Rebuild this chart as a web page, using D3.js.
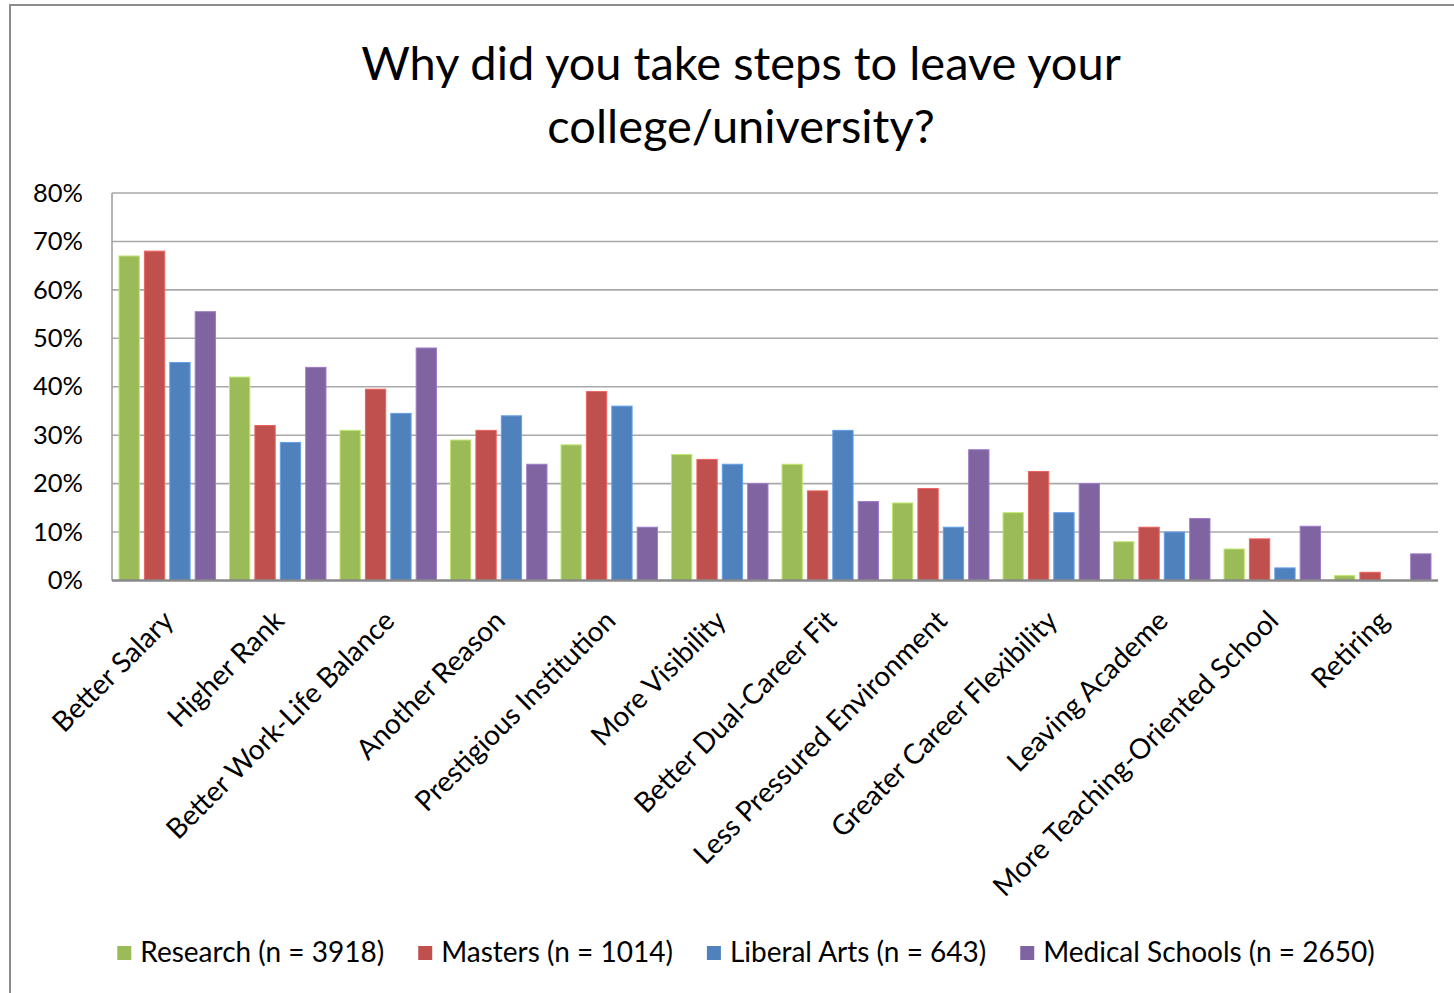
<!DOCTYPE html>
<html>
<head>
<meta charset="utf-8">
<script src="https://cdn.jsdelivr.net/npm/d3@7"></script>
<style>
  html, body { margin: 0; padding: 0; background: #fff; }
  svg { display: block; }
  text { font-family: Lato, "Open Sans", sans-serif; fill: #000; }
</style>
</head>
<body>
<svg id="chart" width="1454" height="993"></svg>
<script>
const titleLines = ["Why did you take steps to leave your", "college/university?"];
const categories = ["Better Salary", "Higher Rank", "Better Work-Life Balance", "Another Reason",
  "Prestigious Institution", "More Visibility", "Better Dual-Career Fit", "Less Pressured Environment",
  "Greater Career Flexibility", "Leaving Academe", "More Teaching-Oriented School", "Retiring"];
const seriesNames = ["Research (n = 3918)", "Masters (n = 1014)", "Liberal Arts (n = 643)", "Medical Schools (n = 2650)"];
const seriesColors = ["#9bbb59", "#c0504d", "#4f81bd", "#8064a2"];
const research     = [0.67, 0.42, 0.31, 0.29, 0.28, 0.26, 0.24, 0.16, 0.14, 0.08, 0.065, 0.01];
const masters      = [0.68, 0.32, 0.395, 0.31, 0.39, 0.25, 0.185, 0.19, 0.225, 0.11, 0.086, 0.017];
const liberalArts  = [0.45, 0.285, 0.345, 0.34, 0.36, 0.24, 0.31, 0.11, 0.14, 0.10, 0.026, 0];
const medical      = [0.555, 0.44, 0.48, 0.24, 0.11, 0.20, 0.163, 0.27, 0.20, 0.128, 0.112, 0.055];
const yTicks = [0, 0.1, 0.2, 0.3, 0.4, 0.5, 0.6, 0.7, 0.8];

const seriesValues = [research, masters, liberalArts, medical];

const svg = d3.select("#chart");
const plot = { left: 112, right: 1438, top: 193, bottom: 580.5 };

// outer chart border
svg.append("rect").attr("x", 10).attr("y", 5).attr("width", 1500).attr("height", 1100)
  .attr("fill", "none").attr("stroke", "#8c8c8c").attr("stroke-width", 2);

// title
const title = svg.append("text").attr("text-anchor", "middle").style("font-size", "47px");
titleLines.forEach((t, i) => {
  title.append("tspan").attr("x", 741).attr("y", 80 + i * 63).text(t);
});

const y = d3.scaleLinear().domain([0, 0.8]).range([plot.bottom, plot.top]);
const x0 = d3.scaleBand().domain(categories).range([plot.left, plot.right]).paddingInner(0.127).paddingOuter(0.0635);
const x1 = d3.scaleBand().domain(d3.range(seriesNames.length)).range([0, x0.bandwidth()]).paddingInner(0.2);

// gridlines
svg.append("g").selectAll("line").data(yTicks.filter(d => d > 0)).join("line")
  .attr("x1", plot.left).attr("x2", plot.right)
  .attr("y1", d => y(d)).attr("y2", d => y(d))
  .attr("stroke", "#a9a9a9").attr("stroke-width", 1.6);

// y axis labels
const yAxis = d3.axisLeft(y).tickValues(yTicks).tickFormat(d3.format(".0%")).tickSize(0).tickPadding(29);
const yg = svg.append("g").attr("transform", `translate(${plot.left},0)`).call(yAxis);
yg.select(".domain").remove();
yg.selectAll("text").style("font-size", "25.5px").style("font-family", "Lato, sans-serif").attr("fill", "#000");

// left axis line
svg.append("line").attr("x1", plot.left).attr("x2", plot.left).attr("y1", plot.top).attr("y2", plot.bottom)
  .attr("stroke", "#a0a0a0").attr("stroke-width", 1.6);

// bars
const groups = svg.append("g").selectAll("g").data(categories).join("g")
  .attr("transform", d => `translate(${x0(d)},0)`);
groups.selectAll("rect").data((c, ci) => seriesValues.map((vals, si) => ({ si, v: vals[ci] })))
  .join("rect")
  .attr("x", d => x1(d.si))
  .attr("width", x1.bandwidth())
  .attr("y", d => y(d.v))
  .attr("height", d => plot.bottom - y(d.v))
  .attr("fill", d => seriesColors[d.si])
  .attr("stroke", d => d3.color(seriesColors[d.si]).brighter(0.6))
  .attr("stroke-width", d => d.v > 0 ? 1 : 0);

// baseline
svg.append("line").attr("x1", plot.left).attr("x2", plot.right).attr("y1", plot.bottom).attr("y2", plot.bottom)
  .attr("stroke", "#8a8a8a").attr("stroke-width", 2.5);

// x labels
svg.append("g").selectAll("text").data(categories).join("text")
  .attr("transform", d => `translate(${x0(d) + x0.bandwidth() / 2 + 8},${plot.bottom + 42}) rotate(-45)`)
  .attr("text-anchor", "end")
  .style("font-size", "28px")
  .text(d => d);

// legend
const legend = svg.append("g");
const items = legend.selectAll("g").data(seriesNames).join("g");
items.append("rect").attr("width", 14).attr("height", 14).attr("y", -16)
  .attr("fill", (d, i) => seriesColors[i]);
items.append("text").attr("x", 23).attr("y", 0).style("font-size", "28px").text(d => d);
let widths = [];
items.each(function () { widths.push(this.getBBox().width); });
const gap = 34;
const total = d3.sum(widths) + gap * (widths.length - 1);
let cx = 746 - total / 2;
items.attr("transform", (d, i) => {
  const t = `translate(${cx},962)`;
  cx += widths[i] + gap;
  return t;
});
</script>
</body>
</html>
